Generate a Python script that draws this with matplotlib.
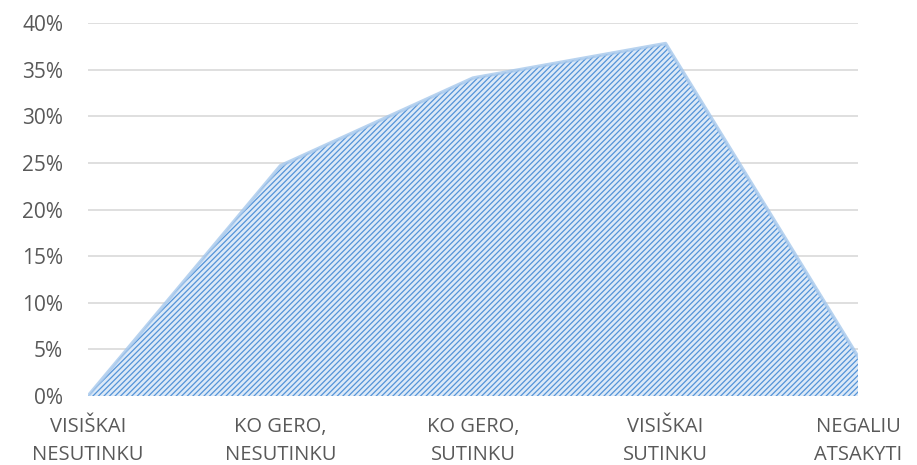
import matplotlib
matplotlib.use("Agg")
from matplotlib import pyplot as plt
from matplotlib.ticker import PercentFormatter

# Chart data
categories = ["VISIŠKAI\nNESUTINKU", "KO GERO,\nNESUTINKU", "KO GERO,\nSUTINKU",
              "VISIŠKAI\nSUTINKU", "NEGALIU\nATSAKYTI"]
shares = [0.0, 0.247, 0.341, 0.378, 0.042]
yticks = [0, 0.05, 0.10, 0.15, 0.20, 0.25, 0.30, 0.35, 0.40]

plt.rcParams['font.family'] = ['Open Sans', 'DejaVu Sans']
plt.rcParams['hatch.color'] = '#5393d8'
plt.rcParams['hatch.linewidth'] = 0.9

fig = plt.figure(figsize=(9.17, 4.65), dpi=100)
ax = fig.add_axes([0.096, 0.1484, 0.8397, 0.8021])

x = list(range(len(categories)))
ax.fill_between(x, shares, 0, facecolor='#dce9f7', hatch='//////',
                edgecolor='#5393d8', linewidth=0, zorder=3)
ax.plot(x, shares, color='#a6c8ec', lw=2.5, alpha=0.8, zorder=4, solid_joinstyle='round')

ax.set_xlim(0, 4)
ax.set_ylim(0, 0.4)
ax.set_yticks(yticks)
ax.yaxis.set_major_formatter(PercentFormatter(1.0, decimals=0))
ax.grid(axis='y', color='#d9d9d9', lw=1.2, zorder=0)
ax.set_axisbelow(True)

for s in ax.spines.values():
    s.set_visible(False)
ax.tick_params(axis='both', length=0, colors='#595959')
ax.tick_params(axis='y', pad=18, labelsize=15)
ax.tick_params(axis='x', pad=15)

ax.set_xticks(x)
ax.set_xticklabels(categories, fontsize=14.5, linespacing=1.55)
for lbl in ax.get_xticklabels():
    lbl.set_clip_on(False)

fig.savefig('out.png', dpi=100)
